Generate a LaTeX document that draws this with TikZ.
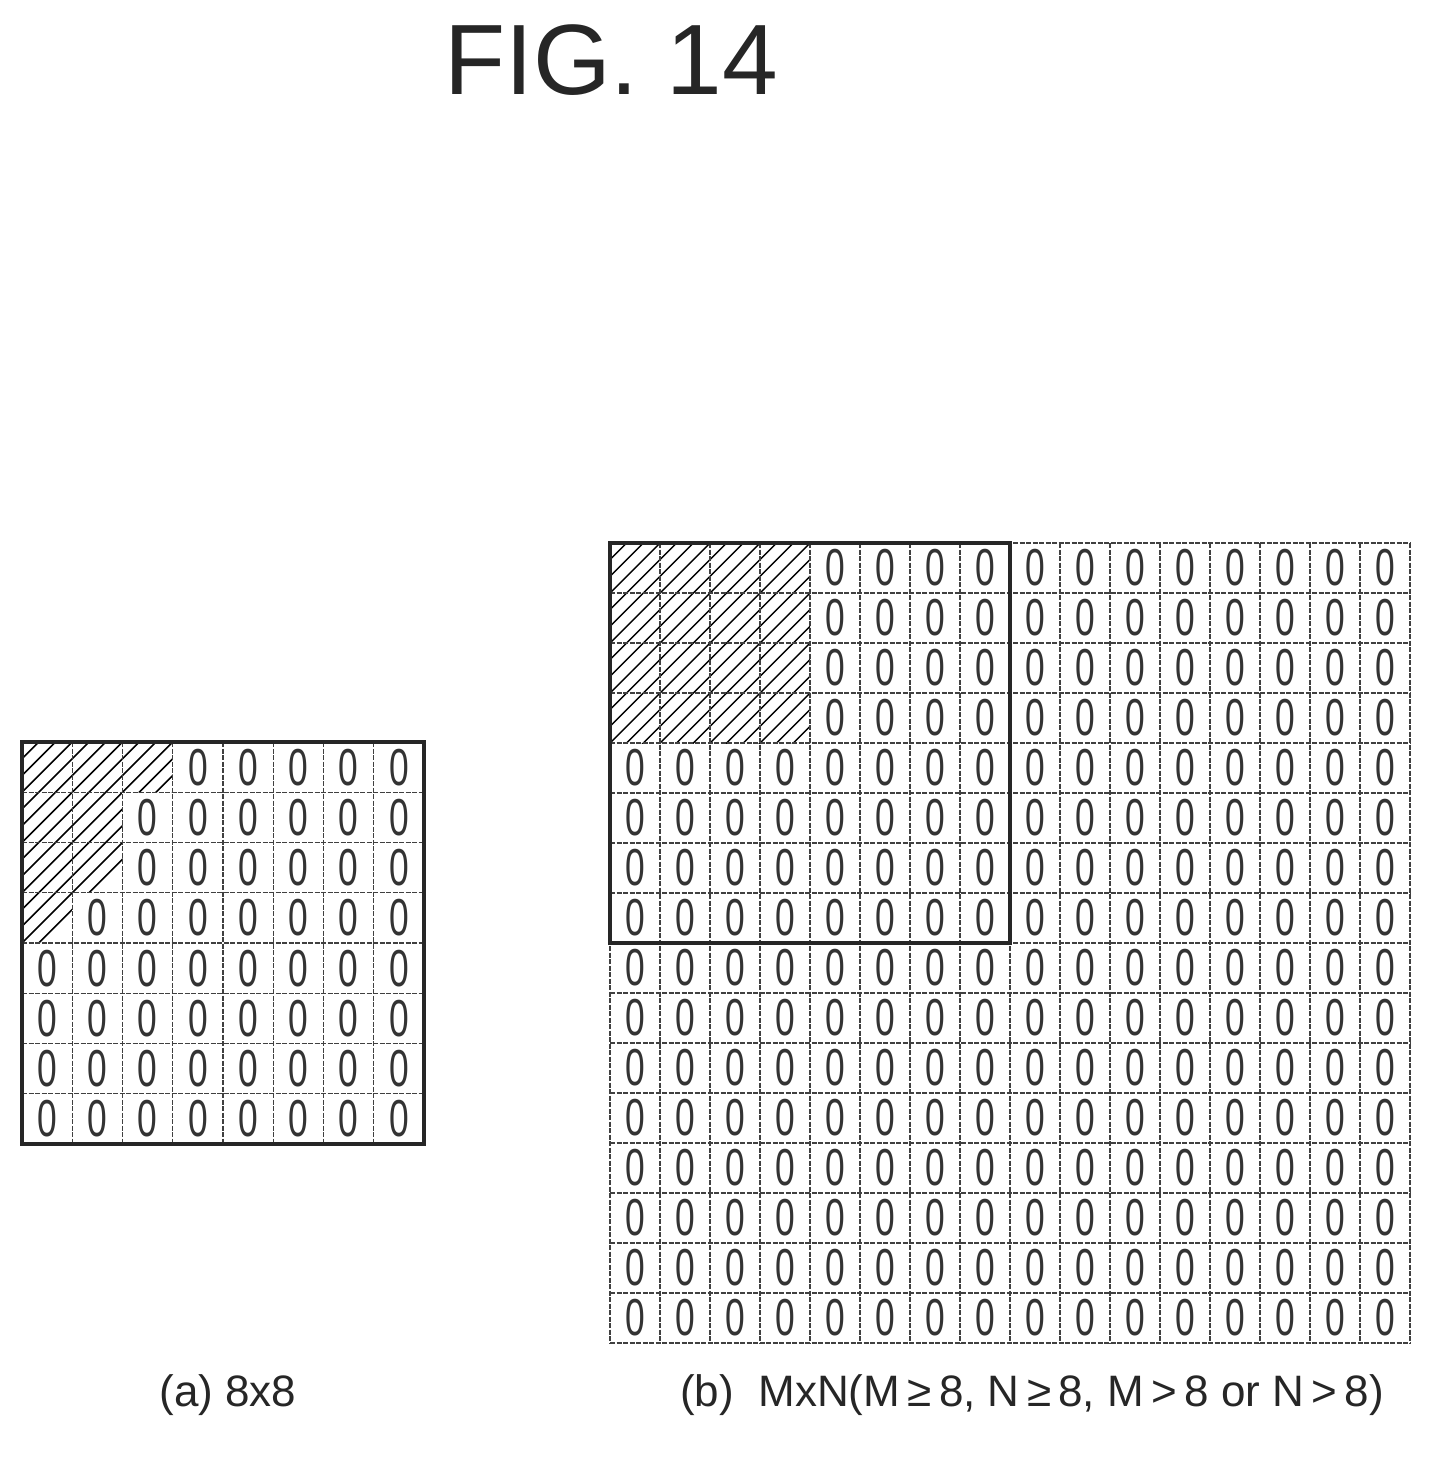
\documentclass[tikz,border=0pt]{standalone}
\usepackage{fontspec}
\setmainfont{Liberation Sans}
\begin{document}
\begin{tikzpicture}[x=1pt,y=-1pt,
  gridline/.style={black!75,line width=1.4pt,dash pattern=on 5pt off 1.5pt},
  thickborder/.style={black!85,line width=4pt},
  hatch/.style={black,line width=1.6pt},
  zero/.style={font=\fontsize{52}{52}\selectfont\color{black!80},xscale=0.68,inner sep=0,transform shape}]
\useasboundingbox (0,0) rectangle (1432,1466);
\node[font=\fontsize{100}{100}\selectfont,color=black!85] (title) at (611,60) {FIG. 14};
% ---------- (a) ----------
\def\ax{22}\def\ay{742}\def\ac{50.25}
\begin{scope}
 \clip (\ax,\ay) -- ++(3*\ac,0) -- ++(0,\ac) -- ++(-\ac,0) -- ++(0,2*\ac) -- ++(-\ac,0) -- ++(0,\ac) -- ++(-\ac,0) -- cycle;
 \foreach \k in {1,...,13} \draw[hatch] (\ax+\k*\ac/3,\ay) -- (\ax,\ay+\k*\ac/3);
\end{scope}
\foreach \i in {0,...,8}{
 \draw[gridline] (\ax+\i*\ac,\ay) -- (\ax+\i*\ac,\ay+8*\ac);
 \draw[gridline] (\ax,\ay+\i*\ac) -- (\ax+8*\ac,\ay+\i*\ac);}
\foreach \r in {0,...,7}\foreach \c in {0,...,7}{
 \pgfmathtruncatemacro\h{(\r==0 && \c<3) || (\c<2 && \r<3) || (\c==0 && \r==3)}
 \ifnum\h=0 \node[zero] (a-\r-\c) at (\ax+\c*\ac+0.5*\ac,\ay+\r*\ac+0.5*\ac) {0};\fi}
\draw[thickborder] (\ax,\ay) rectangle (\ax+8*\ac,\ay+8*\ac);
\node[font=\fontsize{44}{44}\selectfont,color=black!85] (la) at (228,1395) {(a) 8x8};
% ---------- (b) ----------
\def\bx{610}\def\by{543}\def\bc{50}
\begin{scope}
 \clip (\bx,\by) rectangle (\bx+4*\bc,\by+4*\bc);
 \foreach \k in {1,...,24} \draw[hatch,line width=1.4pt] (\bx+\k*\bc/3,\by) -- (\bx,\by+\k*\bc/3);
\end{scope}
\foreach \i in {0,...,16}{
 \draw[gridline] (\bx+\i*\bc,\by) -- (\bx+\i*\bc,\by+16*\bc);
 \draw[gridline] (\bx,\by+\i*\bc) -- (\bx+16*\bc,\by+\i*\bc);}
\foreach \r in {0,...,15}\foreach \c in {0,...,15}{
 \pgfmathtruncatemacro\h{(\r<4 && \c<4)}
 \ifnum\h=0 \node[zero] (b-\r-\c) at (\bx+\c*\bc+0.5*\bc,\by+\r*\bc+0.5*\bc) {0};\fi}
\draw[thickborder] (\bx,\by) rectangle (\bx+8*\bc,\by+8*\bc);
\node[font=\fontsize{44}{44}\selectfont,color=black!85] (lb) at (1032,1395) {(b) \ MxN(M\,≥\,8, N\,≥\,8, M\,>\,8 or N\,>\,8)};
\end{tikzpicture}
\end{document}
